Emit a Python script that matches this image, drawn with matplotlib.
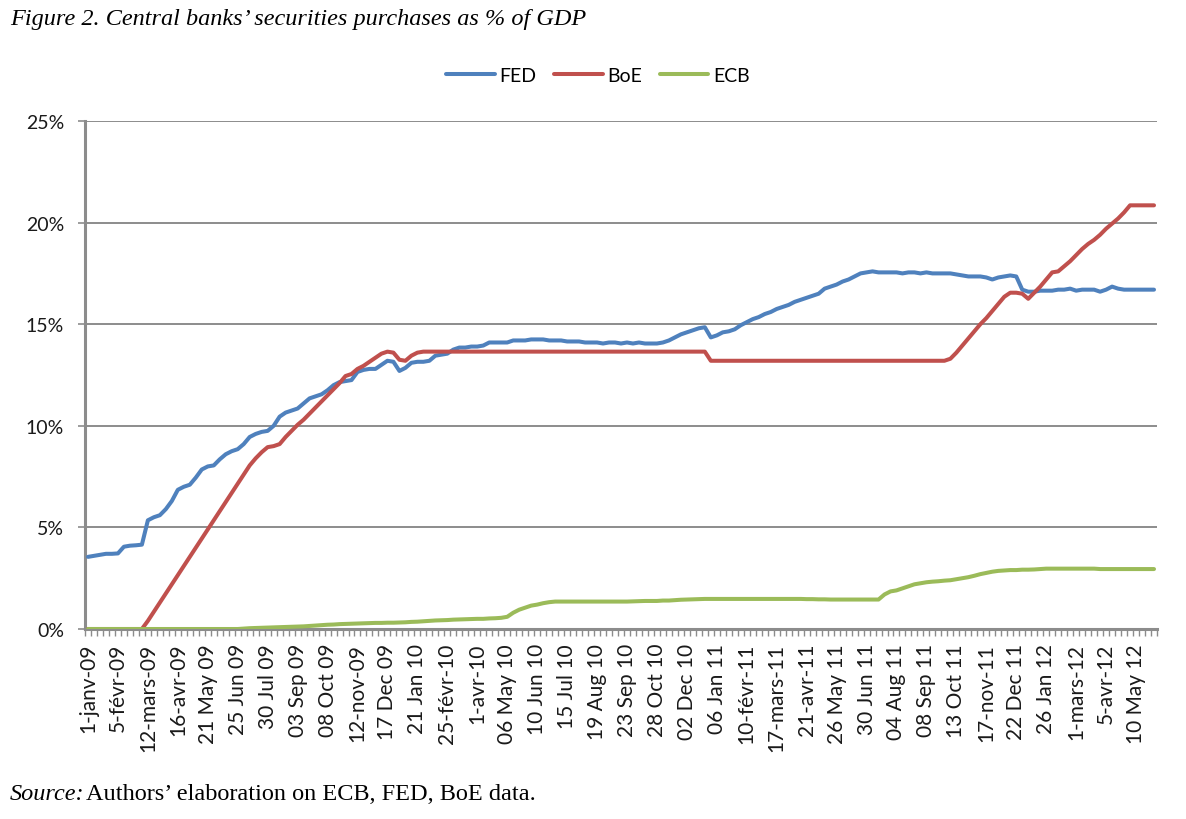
import matplotlib
matplotlib.use("Agg")
import matplotlib.pyplot as plt
import numpy as np

# weekly observations, 1 Jan 2009 -> end of May 2012 (% of GDP)
FED = [
    3.55, 3.60, 3.65, 3.70, 3.70, 3.72, 4.05, 4.10, 4.12, 4.15,
    5.35, 5.50, 5.60, 5.90, 6.30, 6.85, 7.00, 7.10, 7.45, 7.85,
    8.00, 8.05, 8.35, 8.60, 8.75, 8.85, 9.10, 9.45, 9.60, 9.70,
    9.75, 10.00, 10.45, 10.65, 10.75, 10.85, 11.10, 11.35, 11.45, 11.55,
    11.75, 12.00, 12.15, 12.20, 12.25, 12.65, 12.75, 12.80, 12.80, 13.00,
    13.20, 13.15, 12.70, 12.85, 13.10, 13.15, 13.15, 13.20, 13.45, 13.50,
    13.55, 13.75, 13.85, 13.85, 13.90, 13.90, 13.95, 14.10, 14.10, 14.10,
    14.10, 14.20, 14.20, 14.20, 14.25, 14.25, 14.25, 14.20, 14.20, 14.20,
    14.15, 14.15, 14.15, 14.10, 14.10, 14.10, 14.05, 14.10, 14.10, 14.05,
    14.10, 14.05, 14.10, 14.05, 14.05, 14.05, 14.10, 14.20, 14.35, 14.50,
    14.60, 14.70, 14.80, 14.85, 14.35, 14.45, 14.60, 14.65, 14.75, 14.95,
    15.10, 15.25, 15.35, 15.50, 15.60, 15.75, 15.85, 15.95, 16.10, 16.20,
    16.30, 16.40, 16.50, 16.75, 16.85, 16.95, 17.10, 17.20, 17.35, 17.50,
    17.55, 17.60, 17.55, 17.55, 17.55, 17.55, 17.50, 17.55, 17.55, 17.50,
    17.55, 17.50, 17.50, 17.50, 17.50, 17.45, 17.40, 17.35, 17.35, 17.35,
    17.30, 17.20, 17.30, 17.35, 17.40, 17.35, 16.70, 16.60, 16.60, 16.65,
    16.65, 16.65, 16.70, 16.70, 16.75, 16.65, 16.70, 16.70, 16.70, 16.60,
    16.70, 16.85, 16.75, 16.70, 16.70, 16.70, 16.70, 16.70, 16.70,
]

BOE = [
    0.00, 0.00, 0.00, 0.00, 0.00, 0.00, 0.00, 0.00, 0.00, 0.00,
    0.40, 0.85, 1.30, 1.75, 2.20, 2.65, 3.10, 3.55, 4.00, 4.45,
    4.90, 5.35, 5.80, 6.25, 6.70, 7.15, 7.60, 8.05, 8.40, 8.70,
    8.95, 9.00, 9.10, 9.45, 9.75, 10.05, 10.30, 10.60, 10.90, 11.20,
    11.50, 11.80, 12.10, 12.45, 12.55, 12.80, 12.95, 13.15, 13.35, 13.55,
    13.65, 13.60, 13.25, 13.20, 13.45, 13.60, 13.65, 13.65, 13.65, 13.65,
    13.65, 13.65, 13.65, 13.65, 13.65, 13.65, 13.65, 13.65, 13.65, 13.65,
    13.65, 13.65, 13.65, 13.65, 13.65, 13.65, 13.65, 13.65, 13.65, 13.65,
    13.65, 13.65, 13.65, 13.65, 13.65, 13.65, 13.65, 13.65, 13.65, 13.65,
    13.65, 13.65, 13.65, 13.65, 13.65, 13.65, 13.65, 13.65, 13.65, 13.65,
    13.65, 13.65, 13.65, 13.65, 13.20, 13.20, 13.20, 13.20, 13.20, 13.20,
    13.20, 13.20, 13.20, 13.20, 13.20, 13.20, 13.20, 13.20, 13.20, 13.20,
    13.20, 13.20, 13.20, 13.20, 13.20, 13.20, 13.20, 13.20, 13.20, 13.20,
    13.20, 13.20, 13.20, 13.20, 13.20, 13.20, 13.20, 13.20, 13.20, 13.20,
    13.20, 13.20, 13.20, 13.20, 13.30, 13.60, 13.95, 14.30, 14.65, 15.00,
    15.30, 15.65, 16.00, 16.35, 16.55, 16.55, 16.50, 16.25, 16.55, 16.85,
    17.20, 17.55, 17.60, 17.85, 18.10, 18.40, 18.70, 18.95, 19.15, 19.40,
    19.70, 19.95, 20.20, 20.50, 20.85, 20.85, 20.85, 20.85, 20.85,
]

ECB = [
    0.00, 0.00, 0.00, 0.00, 0.00, 0.00, 0.00, 0.00, 0.00, 0.00,
    0.00, 0.00, 0.00, 0.00, 0.00, 0.00, 0.00, 0.00, 0.00, 0.00,
    0.00, 0.00, 0.00, 0.00, 0.00, 0.00, 0.02, 0.04, 0.05, 0.06,
    0.07, 0.08, 0.09, 0.10, 0.11, 0.12, 0.13, 0.15, 0.17, 0.19,
    0.21, 0.22, 0.24, 0.25, 0.26, 0.27, 0.28, 0.29, 0.30, 0.30,
    0.31, 0.31, 0.32, 0.33, 0.35, 0.36, 0.38, 0.40, 0.42, 0.43,
    0.44, 0.46, 0.47, 0.48, 0.49, 0.50, 0.50, 0.52, 0.53, 0.55,
    0.60, 0.80, 0.95, 1.05, 1.15, 1.20, 1.27, 1.32, 1.35, 1.35,
    1.35, 1.35, 1.35, 1.35, 1.35, 1.35, 1.35, 1.35, 1.35, 1.35,
    1.35, 1.36, 1.37, 1.38, 1.38, 1.38, 1.40, 1.40, 1.42, 1.44,
    1.45, 1.46, 1.47, 1.48, 1.48, 1.48, 1.48, 1.48, 1.48, 1.48,
    1.48, 1.48, 1.48, 1.48, 1.48, 1.48, 1.48, 1.48, 1.48, 1.48,
    1.47, 1.47, 1.46, 1.46, 1.45, 1.45, 1.45, 1.45, 1.45, 1.45,
    1.45, 1.45, 1.45, 1.70, 1.85, 1.90, 2.00, 2.10, 2.20, 2.25,
    2.30, 2.33, 2.35, 2.38, 2.40, 2.45, 2.50, 2.55, 2.62, 2.70,
    2.76, 2.82, 2.86, 2.88, 2.90, 2.90, 2.92, 2.92, 2.93, 2.95,
    2.97, 2.97, 2.97, 2.97, 2.97, 2.97, 2.97, 2.97, 2.97, 2.95,
    2.95, 2.95, 2.95, 2.95, 2.95, 2.95, 2.95, 2.95, 2.95,
]

# every fifth week is labelled
TICK_LABELS = [
    "1-janv-09", "5-févr-09", "12-mars-09", "16-avr-09", "21 May 09",
    "25 Jun 09", "30 Jul 09", "03 Sep 09", "08 Oct 09", "12-nov-09",
    "17 Dec 09", "21 Jan 10", "25-févr-10", "1-avr-10", "06 May 10",
    "10 Jun 10", "15 Jul 10", "19 Aug 10", "23 Sep 10", "28 Oct 10",
    "02 Dec 10", "06 Jan 11", "10-févr-11", "17-mars-11", "21-avr-11",
    "26 May 11", "30 Jun 11", "04 Aug 11", "08 Sep 11", "13 Oct 11",
    "17-nov-11", "22 Dec 11", "26 Jan 12", "1-mars-12", "5-avr-12",
    "10 May 12",
]
Y_TICKS = [0, 5, 10, 15, 20, 25]

BLUE, RED, GREEN = "#4F81BD", "#C0504D", "#9BBB59"
GRID = "#8C8C8C"
SANS = ["Lato", "DejaVu Sans"]
SERIF = ["Liberation Serif", "DejaVu Serif"]

n = len(FED)
weeks = np.arange(n)

fig = plt.figure(figsize=(11.86, 8.2), dpi=100)
ax = fig.add_axes([85 / 1186, 1 - 630 / 820, (1157 - 85) / 1186, (630 - 122) / 820])

for vals, col, name in [(FED, BLUE, "FED"), (BOE, RED, "BoE"), (ECB, GREEN, "ECB")]:
    ax.plot(weeks, vals, color=col, lw=2.9, label=name, zorder=3,
            solid_joinstyle="round", solid_capstyle="round")

ax.set_xlim(-0.5, n - 0.5)
ax.set_ylim(0, 25)
ax.set_yticks(Y_TICKS)
ax.set_yticklabels([f"{v}%" for v in Y_TICKS])
ax.yaxis.grid(True, color=GRID, lw=1.4)
ax.set_axisbelow(True)

ax.set_xticks(np.arange(0, 5 * len(TICK_LABELS), 5))
ax.set_xticklabels(TICK_LABELS, rotation=90, ha="center", va="top")
ax.set_xticks(np.arange(-0.5, n, 1), minor=True)
ax.tick_params(axis="x", which="major", length=0, pad=10)
ax.tick_params(axis="x", which="minor", length=5, width=1, color=GRID)
ax.tick_params(axis="y", length=5, width=1.2, color=GRID, pad=10)
for lab in ax.get_xticklabels():
    lab.set_family(SANS)
    lab.set_fontsize(15)
    lab.set_color("#1a1a1a")
for lab in ax.get_yticklabels():
    lab.set_family(SANS)
    lab.set_fontsize(14)
    lab.set_color("#1a1a1a")

for s in ["top", "right"]:
    ax.spines[s].set_visible(False)
for s in ["left", "bottom"]:
    ax.spines[s].set_color(GRID)
    ax.spines[s].set_linewidth(2.2)

leg = fig.legend(loc="center", bbox_to_anchor=(598 / 1186, 1 - 76 / 820), ncol=3,
                 frameon=False, handlelength=2.5, handletextpad=0.25,
                 columnspacing=0.9, prop={"family": SANS, "size": 14})

fig.text(10 / 1186, 1 - 20 / 820,
         "Figure 2. Central banks\u2019 securities purchases as % of GDP",
         family=SERIF, style="italic", fontsize=17.5, va="center", ha="left")
fig.text(10 / 1186, 1 - 795 / 820, "Source:", family=SERIF, style="italic",
         fontsize=17.5, va="center", ha="left")
fig.text(86 / 1186, 1 - 795 / 820, "Authors\u2019 elaboration on ECB, FED, BoE data.",
         family=SERIF, fontsize=17.5, va="center", ha="left")

fig.savefig("out.png", dpi=100)
